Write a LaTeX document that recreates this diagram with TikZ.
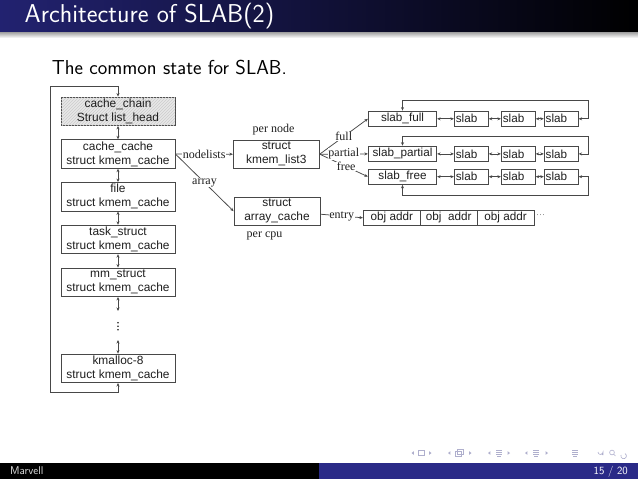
\documentclass[tikz,border=0pt]{standalone}
\usepackage{fontspec}
\newfontfamily\arialf{Liberation Sans}
\newfontfamily\timesf{Liberation Serif}
\usetikzlibrary{arrows.meta,calc,patterns}
\definecolor{lc}{RGB}{72,72,72}
\definecolor{tc}{RGB}{30,30,30}
\definecolor{tleft}{RGB}{34,34,112}
\definecolor{tmid}{RGB}{26,26,92}
\definecolor{footblue}{RGB}{42,42,135}
\definecolor{navc}{RGB}{175,175,205}
\tikzset{
  conn/.style={draw=lc, line width=0.75pt, >={Stealth[length=3.5pt,width=3pt]}},
  bx/.style={draw=lc, line width=0.85pt, fill=white, minimum width=114pt, minimum height=28.5pt,
    inner sep=0pt, align=center, text=tc, font=\arialf\fontsize{11.9}{14}\selectfont},
  mb/.style={bx, minimum width=86pt, minimum height=28.3pt},
  rb/.style={draw=lc, line width=0.85pt, fill=white, minimum width=68.4pt, minimum height=15.5pt,
    inner sep=0pt, text=tc, font=\arialf\fontsize{11.7}{13}\selectfont},
  sb/.style={rb, minimum width=34pt, text width=31pt, align=left, inner xsep=1.5pt},
  ob/.style={rb, minimum width=56.9pt},
  lb/.style={fill=white, inner sep=0.5pt, text=tc, font=\timesf\fontsize{12}{12}\selectfont},
  plain/.style={inner sep=0pt, text=tc, font=\timesf\fontsize{12}{12}\selectfont},
}
\begin{document}
\begin{tikzpicture}[x=1pt,y=-1pt]
\useasboundingbox (0,0) rectangle (638,479);
\fill[white] (0,0) rectangle (638,479);
% title bar
\shade[left color=tleft, middle color=tmid, right color=black] (0,0) rectangle (638,32);
\shade[top color=gray!75, bottom color=white] (0,32) rectangle (638,38);
\node[anchor=base west, inner sep=0pt, text=white, font=\sffamily\fontsize{25.8}{30}\selectfont] (title) at (24.5,22.8) {Architecture of SLAB(2)};
\node[anchor=base west, inner sep=0pt, text=black, font=\sffamily\fontsize{20.2}{24}\selectfont] (sub) at (51.7,74) {The common state for SLAB.};
% footer
\fill[black] (0,463) rectangle (319,479);
\fill[footblue] (319,463) rectangle (638,479);
\node[anchor=base west, inner sep=0pt, text=gray!25, font=\sffamily\fontsize{11.2}{13}\selectfont] (auth) at (10,474.8) {Marvell};
\node[anchor=base east, inner sep=0pt, text=white, font=\sffamily\fontsize{11}{13}\selectfont] (page) at (628,474.8) {15 / 20};
% navigation symbols
\begin{scope}[navc, line width=0.6pt]
  \fill (411.5,453) -- ++(2.4,-1.8) -- ++(0,3.6) -- cycle;
  \draw (418.5,450.5) rectangle ++(6,5);
  \fill (431.5,453) -- ++(-2.4,-1.8) -- ++(0,3.6) -- cycle;
  \fill (448,453) -- ++(2.4,-1.8) -- ++(0,3.6) -- cycle;
  \draw (455.5,451.5) rectangle ++(5.5,4.5);
  \draw (457.5,449.5) rectangle ++(5.5,4.5);
  \fill (471.5,453) -- ++(-2.4,-1.8) -- ++(0,3.6) -- cycle;
  \fill (488,453) -- ++(2.4,-1.8) -- ++(0,3.6) -- cycle;
  \draw (496,450) -- ++(6,0) (496,452.3) -- ++(6,0) (496,454.6) -- ++(6,0) (497,456.5) -- ++(4,0);
  \fill (510,453) -- ++(-2.4,-1.8) -- ++(0,3.6) -- cycle;
  \fill (525,453) -- ++(2.4,-1.8) -- ++(0,3.6) -- cycle;
  \draw (533,450) -- ++(6,0) (533,452.3) -- ++(6,0) (533,454.6) -- ++(6,0) (534,456.5) -- ++(4,0);
  \fill (548,453) -- ++(-2.4,-1.8) -- ++(0,3.6) -- cycle;
  \draw (572,450) -- ++(6,0) (572,452.3) -- ++(6,0) (572,454.6) -- ++(6,0) (573,456.5) -- ++(4,0);
  \draw (598,452) arc (180:0:2.5) -- ++(0,3) (603,455) -- ++(-2,-1.5);
  \draw (612,452.5) circle (2.4) (613.8,454.3) -- ++(1.6,1.6);
  \draw (621,455) arc (200:-60:2.8);
\end{scope}
% left column
\node[bx, fill=gray!18, postaction={pattern=north east lines, pattern color=gray!40}] (chain) at (118,111.25) {cache\_chain\\Struct list\_head};
\node[bx] (ccache) at (118,154) {cache\_cache\\struct kmem\_cache};
\node[bx] (file) at (118,196.75) {file\\struct kmem\_cache};
\node[bx] (task) at (118,239.5) {task\_struct\\struct kmem\_cache};
\node[bx] (mm) at (118,282.25) {mm\_struct\\struct kmem\_cache};
\node[bx] (kmalloc) at (118,368.3) {kmalloc-8\\struct kmem\_cache};
\draw[conn,<->] (chain) -- (ccache);
\draw[conn,<->] (ccache) -- (file);
\draw[conn,<->] (file) -- (task);
\draw[conn,<->] (task) -- (mm);
\coordinate (mmend) at (118,311);
\coordinate (kmtop) at (118,340);
\draw[conn,<->] (mm) -- (mmend);
\draw[conn,<->] (kmtop) -- (kmalloc);
\fill[tc] (118,322.8) circle (0.9) (118,326.3) circle (0.9) (118,329.8) circle (0.9);
\coordinate (loopBL) at (50.5,392.7);
\draw[conn,<->] (chain.north) -- ++(0,-10) -| (loopBL) -| (kmalloc.south);
% middle
\node[mb] (list3) at (276.3,154.2) {struct\\kmem\_list3};
\node[mb] (array) at (277,211.2) {struct\\array\_cache};
\node[plain] (pernode) at (273.5,129.5) {per node};
\node[plain] (percpu) at (264.5,236) {per cpu};
\draw[conn,->] (ccache.east) -- node[lb]{nodelists} (list3.west);
\draw[conn,->] (ccache.east) -- node[lb]{array} (array.west);
% right rows
\node[rb] (full) at (402.5,118.8) {slab\_full};
\node[rb] (partial) at (402.5,153.9) {slab\_partial};
\node[rb] (free) at (402.5,176.7) {slab\_free};
\node[sb] (f1) at (471.3,118.8) {slab};
\node[sb] (f2) at (518.3,118.8) {slab};
\node[sb] (f3) at (561.2,118.8) {slab};
\node[sb] (p1) at (471.3,153.9) {slab};
\node[sb] (p2) at (518.3,153.9) {slab};
\node[sb] (p3) at (561.2,153.9) {slab};
\node[sb] (r1) at (471.3,176.7) {slab};
\node[sb] (r2) at (518.3,176.7) {slab};
\node[sb] (r3) at (561.2,176.7) {slab};
\foreach \a/\b in {full/f1,f1/f2,f2/f3,partial/p1,p1/p2,p2/p3,free/r1,r1/r2,r2/r3}
  \draw[conn,<->] (\a) -- (\b);
\coordinate (fTR) at (588.3,100);
\coordinate (pTR) at (588.3,136.7);
\coordinate (rBR) at (588.3,195);
\draw[conn,<->] (f3.east) -| (fTR) -| (full.north);
\draw[conn,<->] (p3.east) -| (pTR) -| (partial.north);
\draw[conn,<->] (r3.east) -| (rBR) -| (free.south);
\draw[conn,->] (list3.east) -- node[lb]{full} (full.west);
\draw[conn,->] (list3.east) -- node[lb, pos=0.55]{free} (free.west);
\draw[conn,->] (list3.east) -- node[lb]{partial} (partial.west);
% obj addr
\node[ob] (o1) at (391.8,217.8) {obj addr};
\node[ob] (o2) at (448.7,217.8) {obj~ addr};
\node[ob] (o3) at (505.6,217.8) {obj addr};
\node[inner sep=0pt, text=gray, font=\arialf\fontsize{9}{10}\selectfont, anchor=west] (more) at (536,216.5) {···};
\draw[conn,->] ($(array.east)+(0,3)$) -- node[lb]{entry} (o1.west);
\end{tikzpicture}
\end{document}
